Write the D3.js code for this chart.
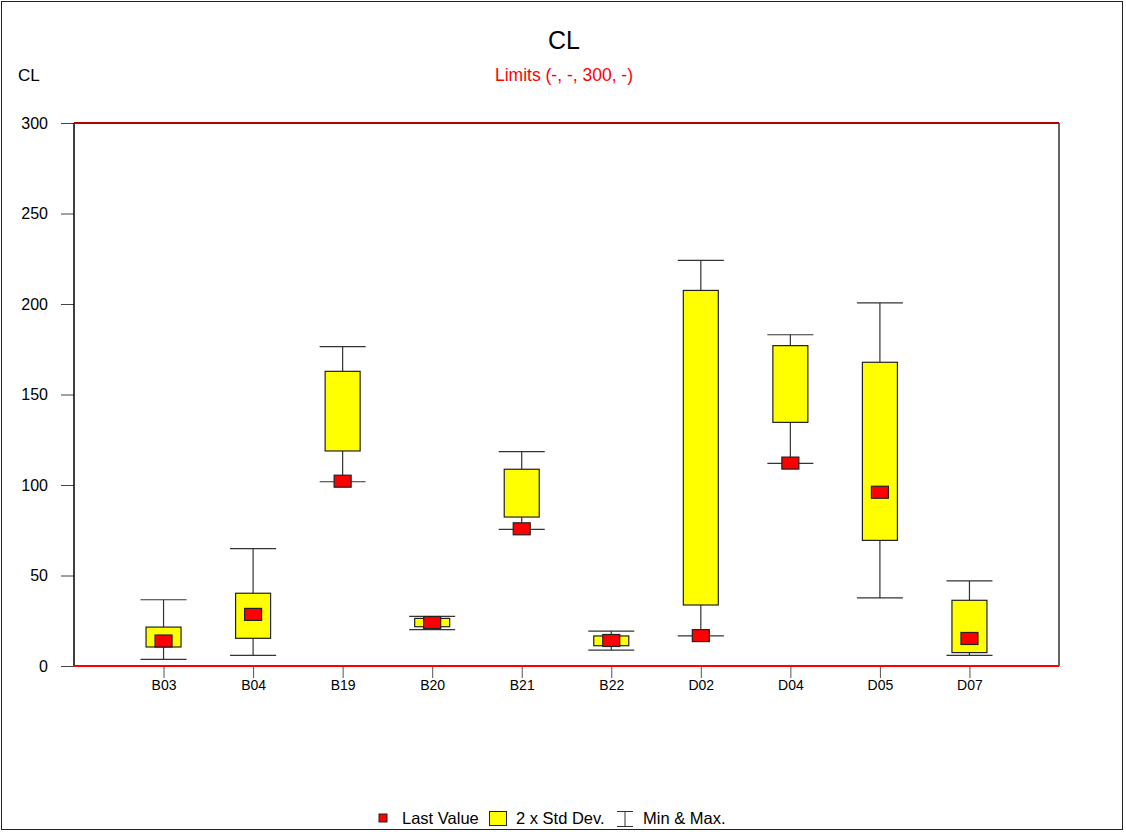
<!DOCTYPE html>
<html><head><meta charset="utf-8">
<script src="https://cdn.jsdelivr.net/npm/d3@7"></script>
<style>body{margin:0;background:#fff}svg{display:block;font-family:"Liberation Sans",Arial,sans-serif}</style>
</head><body><svg id="c" width="1126" height="832"></svg>
<script>
const categories = ["B03","B04","B19","B20","B21","B22","D02","D04","D05","D07"];
const minValues  = [3.7, 5.9, 101.8, 20.1, 75.5, 8.8, 16.6, 112.0, 37.6, 5.9];
const maxValues  = [36.6, 64.8, 176.4, 27.4, 118.4, 19.3, 224.1, 183.0, 200.6, 47.0];
const boxLow     = [10.5, 15.3, 118.8, 21.7, 82.3, 11.2, 33.7, 134.6, 69.4, 7.4];
const boxHigh    = [21.5, 40.2, 162.8, 26.3, 108.7, 16.6, 207.5, 177.0, 167.8, 36.3];
const lastValues = [13.8, 28.5, 102.1, 24.0, 75.8, 14.1, 16.8, 112.1, 96.0, 15.2];
const yTicks = [0, 50, 100, 150, 200, 250, 300];
const upperLimit = 300;
const titleText = "CL";
const limitsText = "Limits (-, -, 300, -)";
const legendLabels = ["Last Value", "2 x Std Dev.", "Min & Max."];

const svg = d3.select("#c");
const L = 74, R = 1059, T = 123, B = 666;
const x = d3.scalePoint().domain(categories).range([L, R]).padding(1);
const y = d3.scaleLinear().domain([0, 300]).range([B, T]);
const FF = "Liberation Sans, Arial, sans-serif";

// outer frame
svg.append("rect").attr("x",1.5).attr("y",1.5).attr("width",1121).attr("height",828)
  .attr("fill","none").attr("stroke","#222").attr("stroke-width",1);

// titles
svg.append("text").attr("x",564).attr("y",49).attr("text-anchor","middle")
  .attr("font-size",25).attr("fill","#000").text(titleText);
svg.append("text").attr("x",564).attr("y",81).attr("text-anchor","middle")
  .attr("font-size",17.5).attr("fill","#ff0000").text(limitsText);
svg.append("text").attr("x",18).attr("y",81)
  .attr("font-size",17).attr("fill","#000").text(titleText);

// y axis
const yAxis = d3.axisLeft(y).tickValues(yTicks).tickSize(13).tickPadding(13).tickFormat(d3.format("d"));
const ga = svg.append("g").attr("transform",`translate(${L},0)`).call(yAxis);
ga.select(".domain").remove();
ga.selectAll(".tick line").attr("stroke","#444");
ga.selectAll(".tick text").attr("font-size",16).attr("fill","#000").attr("font-family",FF);

// x axis ticks & labels
const xAxis = d3.axisBottom(x).tickSize(12).tickPadding(6);
const gx = svg.append("g").attr("transform",`translate(0,${B})`).call(xAxis);
gx.select(".domain").remove();
gx.selectAll(".tick line").attr("stroke","#555");
gx.selectAll(".tick text").attr("font-size",14).attr("fill","#000").attr("font-family",FF).attr("dy","0.45em");

// plot frame
svg.append("line").attr("x1",L).attr("x2",L).attr("y1",T).attr("y2",B).attr("stroke","#000").attr("stroke-width",1.5);
svg.append("line").attr("x1",R).attr("x2",R).attr("y1",T).attr("y2",B).attr("stroke","#333").attr("stroke-width",1.5);
svg.append("line").attr("x1",L).attr("x2",R).attr("y1",y(upperLimit)).attr("y2",y(upperLimit)).attr("stroke","#b00000").attr("stroke-width",2);
svg.append("line").attr("x1",L).attr("x2",R).attr("y1",y(0)).attr("y2",y(0)).attr("stroke","#ff0000").attr("stroke-width",2);

const boxW = 35, capW = 46, mW = 17, mH = 12;
const data = categories.map((c,i)=>({c, mn:minValues[i], mx:maxValues[i], lo:boxLow[i], hi:boxHigh[i], last:lastValues[i]}));
const g = svg.append("g").selectAll("g").data(data).join("g");
g.append("line").attr("x1",d=>x(d.c)).attr("x2",d=>x(d.c)).attr("y1",d=>y(d.mn)).attr("y2",d=>y(d.mx)).attr("stroke","#333").attr("stroke-width",1.2);
g.append("line").attr("x1",d=>x(d.c)-capW/2).attr("x2",d=>x(d.c)+capW/2).attr("y1",d=>y(d.mx)).attr("y2",d=>y(d.mx)).attr("stroke","#333").attr("stroke-width",1.2);
g.append("line").attr("x1",d=>x(d.c)-capW/2).attr("x2",d=>x(d.c)+capW/2).attr("y1",d=>y(d.mn)).attr("y2",d=>y(d.mn)).attr("stroke","#333").attr("stroke-width",1.2);
g.append("rect").attr("x",d=>x(d.c)-boxW/2).attr("width",boxW).attr("y",d=>y(d.hi)).attr("height",d=>y(d.lo)-y(d.hi))
  .attr("fill","#ffff00").attr("stroke","#222").attr("stroke-width",1.2);
g.append("rect").attr("x",d=>x(d.c)-mW/2).attr("width",mW).attr("y",d=>y(d.last)-mH/2).attr("height",mH)
  .attr("fill","#ff0000").attr("stroke","#222").attr("stroke-width",1.2);

// legend
const lg = svg.append("g").attr("font-size",16.5);
lg.append("rect").attr("x",379).attr("y",814).attr("width",8).attr("height",8).attr("fill","#ff0000").attr("stroke","#222");
lg.append("text").attr("x",402).attr("y",824).text(legendLabels[0]);
lg.append("rect").attr("x",489.5).attr("y",811.5).attr("width",17).attr("height",14).attr("fill","#ffff00").attr("stroke","#222");
lg.append("text").attr("x",516).attr("y",824).text(legendLabels[1]);
lg.append("line").attr("x1",617).attr("x2",633).attr("y1",811.5).attr("y2",811.5).attr("stroke","#333");
lg.append("line").attr("x1",617).attr("x2",633).attr("y1",826.5).attr("y2",826.5).attr("stroke","#333");
lg.append("line").attr("x1",625).attr("x2",625).attr("y1",811.5).attr("y2",826.5).attr("stroke","#333");
lg.append("text").attr("x",643).attr("y",824).text(legendLabels[2]);
</script></body></html>
